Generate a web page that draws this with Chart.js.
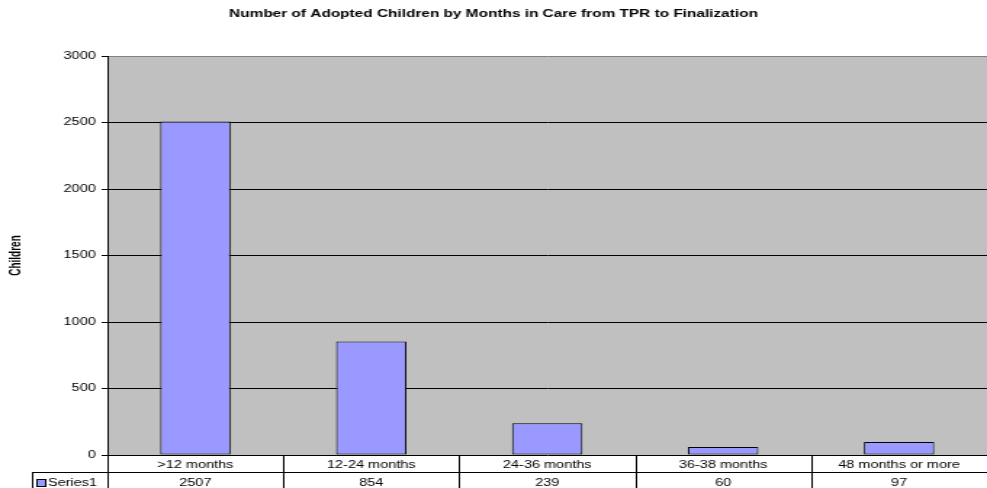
<!DOCTYPE html>
<html>
<head>
<meta charset="utf-8">
<script src="https://cdn.jsdelivr.net/npm/chart.js@4/dist/chart.umd.min.js"></script>
<style>
  html, body { margin: 0; padding: 0; background: #fff; overflow: hidden; }
  /* drawn at 680 wide and widened to 987 for the broad lettering */
  #wrap { width: 680px; height: 488px; transform: scaleX(1.4515); transform-origin: 0 0; }
</style>
</head>
<body>
<div id="wrap"><canvas id="chart"></canvas></div>
<script>
var categories = ['>12 months', '12-24 months', '24-36 months', '36-38 months', '48 months or more'];
var children = [2507, 854, 239, 60, 97];
var seriesName = 'Series1';
var yTicks = [0, 500, 1000, 1500, 2000, 2500, 3000];

var FONT = 'Liberation Sans, Arial, sans-serif';
var BAR = '#9999FF';

// grey plot area behind the bars
var plotBackground = {
  id: 'plotBackground',
  beforeDraw: function (chart) {
    var a = chart.chartArea, ctx = chart.ctx;
    ctx.save();
    ctx.fillStyle = '#C0C0C0';
    ctx.fillRect(a.left, a.top, a.right - a.left, a.bottom - a.top);
    ctx.restore();
  }
};

// data table under the x axis: category row, then the series row with its key
var dataTable = {
  id: 'dataTable',
  afterDraw: function (chart) {
    var ctx = chart.ctx, a = chart.chartArea, x = chart.scales.x;
    var top = a.bottom, mid = a.bottom + 17, bottom = chart.height, keyLeft = 22;
    var edges = [a.left];
    for (var i = 0; i < categories.length - 1; i++) {
      edges.push((x.getPixelForValue(i) + x.getPixelForValue(i + 1)) / 2);
    }
    edges.push(a.right);

    ctx.save();
    ctx.strokeStyle = '#000';
    ctx.lineWidth = 1;
    ctx.beginPath();
    ctx.moveTo(keyLeft, mid + 0.5);
    ctx.lineTo(a.right, mid + 0.5);
    ctx.moveTo(keyLeft + 0.5, mid);
    ctx.lineTo(keyLeft + 0.5, bottom);
    for (var j = 0; j < edges.length - 1; j++) {
      var ex = Math.round(edges[j]) + 0.5;
      ctx.moveTo(ex, top);
      ctx.lineTo(ex, bottom);
    }
    ctx.stroke();

    ctx.fillStyle = '#000';
    ctx.font = '10px ' + FONT;
    ctx.textAlign = 'center';
    ctx.textBaseline = 'alphabetic';
    for (var k = 0; k < categories.length; k++) {
      var cx = x.getPixelForValue(k);
      ctx.fillText(categories[k], cx, top + 13);
      ctx.fillText(String(children[k]), cx, bottom - 2);
    }

    // legend key
    ctx.fillStyle = BAR;
    ctx.fillRect(25, mid + 7, 6, 7);
    ctx.strokeRect(25.5, mid + 7.5, 6, 7);
    ctx.fillStyle = '#000';
    ctx.textAlign = 'left';
    ctx.fillText(seriesName, 33, bottom - 2);
    ctx.restore();
  }
};

new Chart(document.getElementById('chart'), {
  type: 'bar',
  data: {
    labels: categories,
    datasets: [{
      label: seriesName,
      data: children,
      backgroundColor: BAR,
      borderColor: '#000',
      borderWidth: 1,
      borderSkipped: false,
      categoryPercentage: 1,
      barPercentage: 0.4
    }]
  },
  options: {
    responsive: true,
    maintainAspectRatio: false,
    animation: false,
    layout: { padding: { left: 0, right: 0, top: 0, bottom: 33 } },
    plugins: {
      legend: { display: false },
      tooltip: { enabled: false },
      title: {
        display: true,
        text: 'Number of Adopted Children by Months in Care from TPR to Finalization',
        color: '#000',
        font: { family: FONT, size: 10.6, weight: 'bold', lineHeight: 1.2 },
        padding: { top: 8, bottom: 35.3 }
      }
    },
    scales: {
      x: {
        display: false,
        offset: true
      },
      y: {
        min: 0,
        max: 3000,
        afterBuildTicks: function (axis) {
          axis.ticks = yTicks.map(function (v) { return { value: v }; });
        },
        afterFit: function (axis) { axis.width = 74; },
        ticks: {
          color: '#000',
          padding: 4,
          font: { family: FONT, size: 10 },
          callback: function (v) { return String(v); }
        },
        grid: {
          color: function (c) { return c.tick && c.tick.value === 3000 ? '#808080' : '#000'; },
          tickColor: '#000',
          tickLength: 4,
          lineWidth: 1
        },
        border: { display: true, color: '#000', width: 1 },
        title: {
          display: true,
          text: 'Children',
          color: '#000',
          font: { family: FONT, size: 10, weight: 'bold', lineHeight: 1.2 },
          padding: { top: 5, bottom: 0 }
        }
      }
    }
  },
  plugins: [plotBackground, dataTable]
});
</script>
</body>
</html>
